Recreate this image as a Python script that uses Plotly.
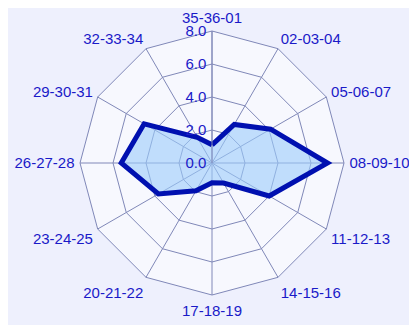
import plotly.graph_objects as go

categories = ["35-36-01", "02-03-04", "05-06-07", "08-09-10", "11-12-13", "14-15-16",
              "17-18-19", "20-21-22", "23-24-25", "26-27-28", "29-30-31", "32-33-34"]
values = [1.1, 2.7, 4.1, 7.0, 4.0, 1.4, 1.2, 1.95, 3.75, 5.5, 4.75, 1.8]
radial_ticks = [0, 2, 4, 6, 8]

fig = go.Figure()
fig.add_trace(go.Scatterpolar(
    r=values + values[:1],
    theta=categories + categories[:1],
    mode="lines",
    fill="toself",
    fillcolor="rgba(155,203,250,0.6)",
    line=dict(color="#0010B0", width=5),
    hoverinfo="skip",
))

font_blue = "#1A1AC8"
grid = "#8088B8"
fig.update_layout(
    width=417, height=325,
    margin=dict(l=55, r=64, t=23, b=38),
    paper_bgcolor="#EEF0FD",
    showlegend=False,
    font=dict(family="Liberation Sans, Arial, sans-serif", color=font_blue, size=15),
    polar=dict(
        bgcolor="#F7F8FE",
        gridshape="linear",
        angularaxis=dict(
            type="category",
            rotation=90, direction="clockwise",
            categoryorder="array", categoryarray=categories,
            showline=True, linecolor=grid, linewidth=1,
            gridcolor=grid, gridwidth=1,
            ticks="outside", ticklen=2, tickcolor="rgba(0,0,0,0)",
            tickfont=dict(size=15, color=font_blue),
        ),
        radialaxis=dict(
            range=[0, 8], tickvals=radial_ticks, tickformat=".1f",
            angle=90, tickangle=90, side="counterclockwise",
            showline=True, linecolor=grid, linewidth=1,
            gridcolor=grid, gridwidth=1,
            ticks="", tickfont=dict(size=15, color=font_blue),
        ),
    ),
)
fig.write_html("out.html")
